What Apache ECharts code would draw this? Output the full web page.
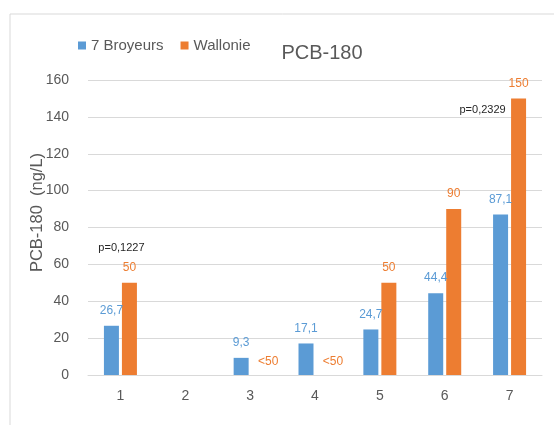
<!DOCTYPE html>
<html><head><meta charset="utf-8">
<script src="https://cdn.jsdelivr.net/npm/echarts@6/dist/echarts.min.js"></script>
<style>html,body{margin:0;padding:0;background:#fff}#c{width:554px;height:425px}</style>
</head><body><div id="c"></div>
<script>
const categories = ['1','2','3','4','5','6','7'];
const broyeurs = [26.7, null, 9.3, 17.1, 24.7, 44.4, 87.1];
const wallonie = [50, null, 0, 0, 50, 90, 150];
const wallonieLabels = ['50', '', '<50', '<50', '50', '90', '150'];
const yTicks = [0, 20, 40, 60, 80, 100, 120, 140, 160];
const pValues = [
  { cat: '1', y: 69, text: 'p=0,1227', dx: 10 },
  { cat: '7', y: 144, text: 'p=0,2329', dx: -18 }
];
const FONT = 'Liberation Sans';
const chart = echarts.init(document.getElementById('c'));
chart.setOption({
  animation: false,
  textStyle: { fontFamily: FONT },
  graphic: [{ type: 'rect', shape: { x: 10, y: 14, width: 560, height: 420 }, style: { fill: 'none', stroke: '#d9d9d9', lineWidth: 1 } }],
  title: { text: 'PCB-180', left: 317, top: 38, textAlign: 'center',
    textStyle: { fontFamily: FONT, fontSize: 20, fontWeight: 'normal', color: '#595959' } },
  legend: { left: 73, top: 33, itemWidth: 8, itemHeight: 8, itemGap: 17, icon: 'rect',
    textStyle: { fontFamily: FONT, fontSize: 15, color: '#595959' } },
  grid: { left: 88, right: 12, top: 80, bottom: 50 },
  xAxis: { type: 'category', data: categories,
    axisLine: { lineStyle: { color: '#d9d9d9', width: 1 } }, axisTick: { show: false },
    axisLabel: { color: '#595959', fontSize: 14, margin: 14 } },
  yAxis: { type: 'value', min: yTicks[0], max: yTicks[yTicks.length - 1], interval: 20,
    name: 'PCB-180  (ng/L)', nameLocation: 'middle', nameGap: 42, nameRotate: 90,
    nameMoveOverlap: false,
    nameTextStyle: { color: '#595959', fontSize: 16.5, padding: [0, 0, 0, 30] },
    axisLabel: { color: '#595959', fontSize: 14, margin: 19 },
    splitLine: { lineStyle: { color: '#d9d9d9' } }, axisLine: { show: false }, axisTick: { show: false } },
  series: [
    { name: '7 Broyeurs', type: 'bar', data: broyeurs, barWidth: 15, barGap: '20%',
      itemStyle: { color: '#5B9BD5' },
      label: { show: true, position: 'top', distance: 9, color: '#5B9BD5', fontSize: 12,
        formatter: p => String(p.value).replace('.', ',') },
      markPoint: { symbol: 'circle', symbolSize: 0,
        data: pValues.map(p => ({ coord: [p.cat, p.y], label: { show: true, position: 'inside', offset: [p.dx, 0], formatter: p.text, color: '#262626', fontSize: 11 } })) } },
    { name: 'Wallonie', type: 'bar', data: wallonie, barWidth: 15,
      itemStyle: { color: '#ED7D31' },
      label: { show: true, position: 'top', distance: 9, color: '#ED7D31', fontSize: 12,
        formatter: p => wallonieLabels[p.dataIndex] },
      labelLayout: p => (wallonie[p.dataIndex] === 0 ? { dx: 9, dy: 2 } : {}) }
  ]
});
</script></body></html>
